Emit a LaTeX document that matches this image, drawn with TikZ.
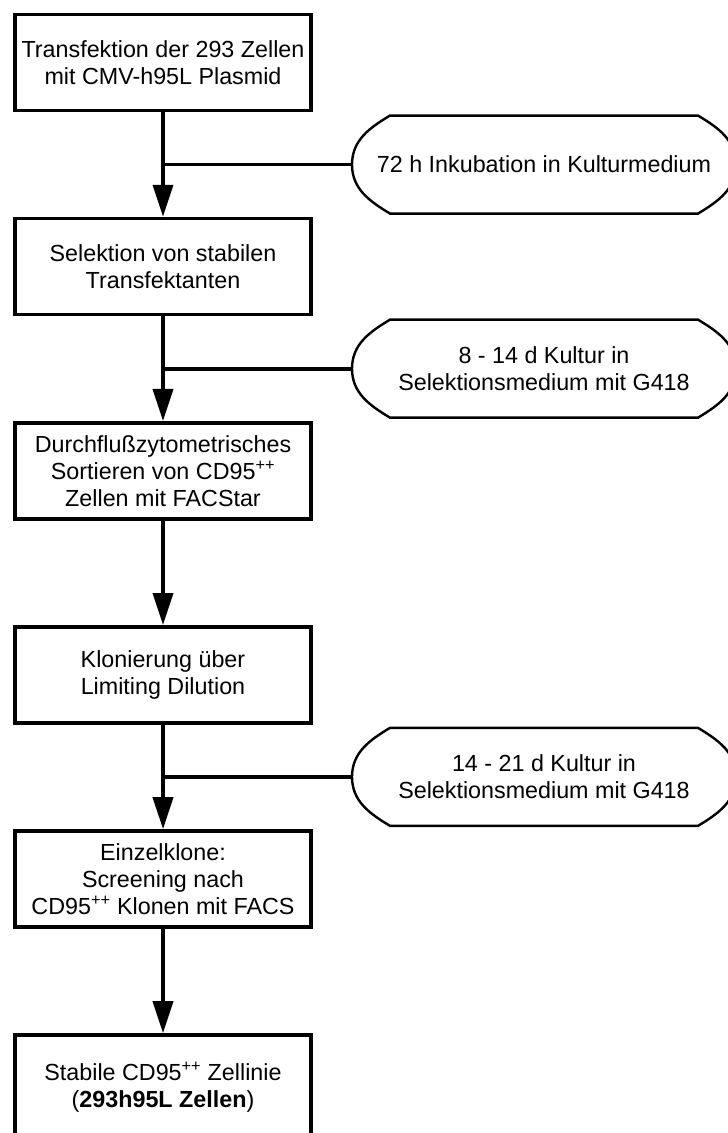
\documentclass[tikz,border=0pt]{standalone}
\usepackage{fontspec}
\setmainfont{Liberation Sans}
\usetikzlibrary{positioning, calc, arrows.meta}

\newcommand{\pp}{\textsuperscript{++}}
\newcommand{\incubframe}[1]{%
	\draw[incubline] ($(#1.north west)+(38pt,0)$) -- ($(#1.north east)+(-38pt,0)$)
		to[out=-31,in=90] (#1.east) to[out=-90,in=31] ($(#1.south east)+(-38pt,0)$)
		-- ($(#1.south west)+(38pt,0)$) to[out=149,in=-90] (#1.west)
		to[out=90,in=-149] cycle;}

\begin{document}
\begin{tikzpicture}[
	font=\fontsize{23.3}{27}\selectfont,
	stepbox/.style={draw, line width=3.6pt, minimum width=296pt, minimum height=96pt, align=center, inner sep=2pt},
	incub/.style={minimum width=384pt, minimum height=98pt, align=center, outer sep=0pt, inner sep=0pt},
	incubline/.style={line width=2.4pt, line join=miter},
	link/.style={line width=3.8pt},
	flow/.style={link, -{Triangle[length=32pt, width=20pt]}},
	node distance=104.5pt
]
	\useasboundingbox (0,0) rectangle (728pt,-1133pt);

	\node[stepbox] (transf) at (163pt,-62.5pt) {Transfektion der 293 Zellen\\mit CMV-h95L Plasmid};
	\node[stepbox, below=of transf] (select) {Selektion von stabilen\\Transfektanten};
	\node[stepbox, below=of select] (sort) {Durchflußzytometrisches\\Sortieren von CD95\pp\\Zellen mit FACStar};
	\node[stepbox, below=of sort] (klon) {Klonierung über\\Limiting Dilution};
	\node[stepbox, below=of klon] (screen) {Einzelklone:\\Screening nach\\CD95\pp{} Klonen mit FACS};
	\node[stepbox, below=of screen, minimum height=104pt] (linie) {Stabile CD95\pp{} Zellinie\\(\textbf{293h95L Zellen})};

	\node[incub] (inc1) at ($(transf.south)!.5!(select.north)+(381pt,0)$) {72 h Inkubation in Kulturmedium};
	\node[incub] (inc2) at ($(select.south)!.5!(sort.north)+(381pt,0)$) {8 - 14 d Kultur in\\Selektionsmedium mit G418};
	\node[incub] (inc3) at ($(klon.south)!.5!(screen.north)+(381pt,0)$) {14 - 21 d Kultur in\\Selektionsmedium mit G418};
	\incubframe{inc1}
	\incubframe{inc2}
	\incubframe{inc3}

	\draw[flow] (transf) -- (select);
	\draw[flow] (select) -- (sort);
	\draw[flow] (sort) -- (klon);
	\draw[flow] (klon) -- (screen);
	\draw[flow] (screen) -- (linie);

	\draw[link] (inc1.west) -- (inc1.west -| transf.south);
	\draw[link] (inc2.west) -- (inc2.west -| select.south);
	\draw[link] (inc3.west) -- (inc3.west -| klon.south);
\end{tikzpicture}
\end{document}
